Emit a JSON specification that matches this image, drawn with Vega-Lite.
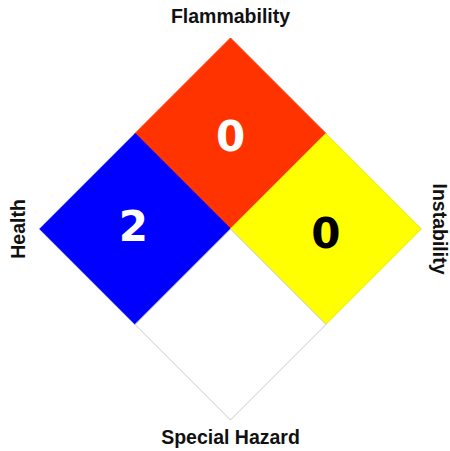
{
  "$schema": "https://vega.github.io/schema/vega-lite/v6.json",
  "width": 450,
  "height": 451,
  "autosize": {"type": "fit", "contains": "padding"},
  "padding": 0,
  "background": "white",
  "config": {"view": {"stroke": null}},
  "datasets": {
    "cells": [
      {"cell": "Flammability", "cx": 0, "cy": 1},
      {"cell": "Health", "cx": -1, "cy": 0},
      {"cell": "Instability", "cx": 1, "cy": 0},
      {"cell": "Special Hazard", "cx": 0, "cy": -1}
    ],
    "ratings": [
      {"cell": "Flammability", "nx": 0, "ny": 0.95, "rating": "0"},
      {"cell": "Health", "nx": -1.02, "ny": 0.01, "rating": "2"},
      {"cell": "Instability", "nx": 1.0, "ny": -0.06, "rating": "0"}
    ],
    "labels": [
      {"label": "Flammability", "lx": 0, "ly": 2.22, "rot": 0},
      {"label": "Health", "lx": -2.22, "ly": 0, "rot": -90},
      {"label": "Instability", "lx": 2.19, "ly": 0, "rot": 90},
      {"label": "Special Hazard", "lx": 0, "ly": -2.19, "rot": 0}
    ]
  },
  "layer": [
    {
      "data": {"name": "cells"},
      "mark": {"type": "point", "shape": "M0,-1L1,0L0,1L-1,0Z", "filled": true, "size": 36481, "opacity": 1, "strokeWidth": 1},
      "encoding": {
        "x": {"field": "cx", "type": "quantitative", "scale": {"domain": [-2.419, 2.293], "nice": false, "zero": false}, "axis": null},
        "y": {"field": "cy", "type": "quantitative", "scale": {"domain": [-2.325, 2.398], "nice": false, "zero": false}, "axis": null},
        "fill": {"field": "cell", "type": "nominal", "scale": {"domain": ["Flammability", "Health", "Instability", "Special Hazard"], "range": ["#FF3300", "#0000FF", "#FFFF00", "#FFFFFF"]}, "legend": null},
        "stroke": {"field": "cell", "type": "nominal", "scale": {"domain": ["Flammability", "Health", "Instability", "Special Hazard"], "range": ["#FF3300", "#0000FF", "#E6E600", "#C8C8C8"]}, "legend": null}
      }
    },
    {
      "data": {"name": "ratings"},
      "mark": {"type": "text", "font": "DejaVu Sans", "fontWeight": "bold", "fontSize": 42, "align": "center", "baseline": "middle"},
      "encoding": {
        "x": {"field": "nx", "type": "quantitative"},
        "y": {"field": "ny", "type": "quantitative"},
        "text": {"field": "rating"},
        "color": {"condition": {"test": "datum.cell === 'Instability'", "value": "#000000"}, "value": "#FFFFFF"}
      }
    },
    {
      "data": {"name": "labels"},
      "mark": {"type": "text", "font": "Liberation Sans", "fontWeight": "bold", "fontSize": 19.5, "align": "center", "baseline": "middle", "color": "#111111"},
      "encoding": {
        "x": {"field": "lx", "type": "quantitative"},
        "y": {"field": "ly", "type": "quantitative"},
        "text": {"field": "label"},
        "angle": {"field": "rot", "type": "quantitative", "scale": null}
      }
    }
  ]
}
